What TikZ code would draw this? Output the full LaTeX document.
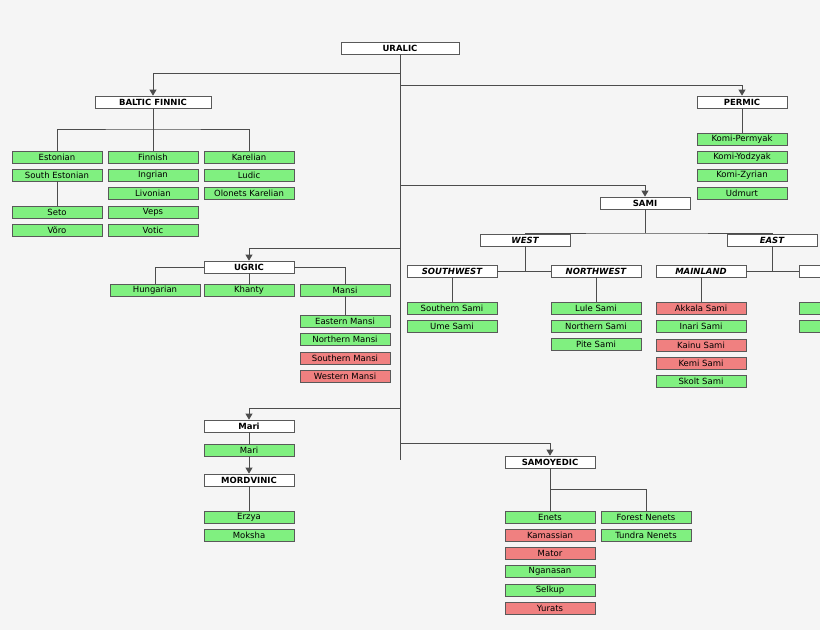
\documentclass[tikz,border=0pt]{standalone}
\usepackage{fontspec}
\setmainfont{DejaVu Sans}
\usetikzlibrary{arrows.meta}
\begin{document}
\begin{tikzpicture}[x=1pt,y=-1pt,
 bx/.style={draw=black!65,line width=0.8pt,minimum width=90pt,minimum height=12pt,inner sep=0pt,font=\fontsize{8.5}{9}\selectfont},
 g/.style={bx,fill={rgb,255:red,128;green,240;blue,128}},
 r/.style={bx,fill={rgb,255:red,240;green,128;blue,128}},
 h/.style={bx,fill=white,font=\fontsize{8.5}{9}\selectfont\bfseries},
 hi/.style={h,font=\fontsize{8.5}{9}\selectfont\bfseries\itshape},
 ln/.style={draw=black!70,line width=0.8pt},
 ar/.style={ln,-{Triangle[length=6pt,width=7pt]}}]
\useasboundingbox[fill={rgb,255:red,245;green,245;blue,245}] (0,0) rectangle (820,630);
\clip (0,0) rectangle (820,630);
% nodes
\node[h,minimum width=118pt] (ur) at (400,48) {URALIC};
\node[h,minimum width=116pt] (bf) at (153,102) {BALTIC FINNIC};
\node[h] (pe) at (742,102) {PERMIC};
\node[g] (est) at (57,157) {Estonian};
\node[g] (sest) at (57,175) {South Estonian};
\node[g] (seto) at (57,212) {Seto};
\node[g] (voro) at (57,230) {Võro};
\node[g] (fin) at (153,157) {Finnish};
\node[g] (ing) at (153,175) {Ingrian};
\node[g] (liv) at (153,193) {Livonian};
\node[g] (veps) at (153,212) {Veps};
\node[g] (vot) at (153,230) {Votic};
\node[g] (kar) at (249,157) {Karelian};
\node[g] (lud) at (249,175) {Ludic};
\node[g] (olo) at (249,193) {Olonets Karelian};
\node[g] (kp) at (742,139) {Komi-Permyak};
\node[g] (ky) at (742,157) {Komi-Yodzyak};
\node[g] (kz) at (742,175) {Komi-Zyrian};
\node[g] (ud) at (742,193) {Udmurt};
\node[h] (sa) at (645,203) {SAMI};
\node[hi] (we) at (525,240) {WEST};
\node[hi] (ea) at (772,240) {EAST};
\node[hi] (sw) at (452,271) {SOUTHWEST};
\node[hi] (nw) at (596,271) {NORTHWEST};
\node[hi] (ml) at (701,271) {MAINLAND};
\node[hi] (pn) at (844,271) {};
\node[g] (ss) at (452,308) {Southern Sami};
\node[g] (um) at (452,326) {Ume Sami};
\node[g] (lu) at (596,308) {Lule Sami};
\node[g] (ns) at (596,326) {Northern Sami};
\node[g] (pi) at (596,344) {Pite Sami};
\node[r] (ak) at (701,308) {Akkala Sami};
\node[g] (in) at (701,326) {Inari Sami};
\node[r] (ka) at (701,345) {Kainu Sami};
\node[r] (ke) at (701,363) {Kemi Sami};
\node[g] (sk) at (701,381) {Skolt Sami};
\node[g] (p1) at (844,308) {};
\node[g] (p2) at (844,326) {};
\node[h] (ug) at (249,267) {UGRIC};
\node[g] (hu) at (155,290) {Hungarian};
\node[g] (kh) at (249,290) {Khanty};
\node[g] (ma) at (345,290) {Mansi};
\node[g] (em) at (345,321) {Eastern Mansi};
\node[g] (nm) at (345,339) {Northern Mansi};
\node[r] (sm) at (345,358) {Southern Mansi};
\node[r] (wm) at (345,376) {Western Mansi};
\node[h] (mah) at (249,426) {Mari};
\node[g] (mar) at (249,450) {Mari};
\node[h] (mo) at (249,480) {MORDVINIC};
\node[g] (er) at (249,517) {Erzya};
\node[g] (mk) at (249,535) {Moksha};
\node[h] (sy) at (550,462) {SAMOYEDIC};
\node[g] (en) at (550,517) {Enets};
\node[r] (kam) at (550,535) {Kamassian};
\node[r] (mat) at (550,553) {Mator};
\node[g] (ng) at (550,571) {Nganasan};
\node[g] (se) at (550,590) {Selkup};
\node[r] (yu) at (550,608) {Yurats};
\node[g] (fn) at (646,517) {Forest Nenets};
\node[g] (tn) at (646,535) {Tundra Nenets};
\coordinate (tend) at (400,460);
% connectors
\draw[ln] (ur.south) -- (tend);
\draw[ar] (400,73) -| (bf.north);
\draw[ar] (400,85) -| (pe.north);
\draw[ar] (400,185) -| (sa.north);
\draw[ar] (400,248) -| (ug.north);
\draw[ar] (400,408) -| (mah.north);
\draw[ar] (400,443) -| (sy.north);
\draw[ar] (mar.south) -- (mo.north);
\draw[ln] (mah.south) -- (mar.north);
\draw[ln] (bf.south) -- (fin.north);
\draw[ln] (est.north) |- (153,129) -| (kar.north);
\draw[ln] (sest.south) -- (seto.north);
\draw[ln] (pe.south) -- (kp.north);
\draw[ln] (sa.south) -- (645,233);
\draw[ln] (we.north) |- (645,233) -| (ea.north);
\draw[ln] (we.south) -- (525,271);
\draw[ln] (sw.east) -- (nw.west);
\draw[ln] (ea.south) -- (772,271);
\draw[ln] (ml.east) -- (pn.west);
\draw[ln] (sw.south) -- (ss.north);
\draw[ln] (nw.south) -- (lu.north);
\draw[ln] (ml.south) -- (ak.north);
\draw[ln] (hu.north) |- (ug.west);
\draw[ln] (ug.east) -| (ma.north);
\draw[ln] (ug.south) -- (kh.north);
\draw[ln] (ma.south) -- (em.north);
\draw[ln] (mo.south) -- (er.north);
\draw[ln] (sy.south) -- (en.north);
\draw[ln] (550,489) -| (fn.north);
\end{tikzpicture}
\end{document}
